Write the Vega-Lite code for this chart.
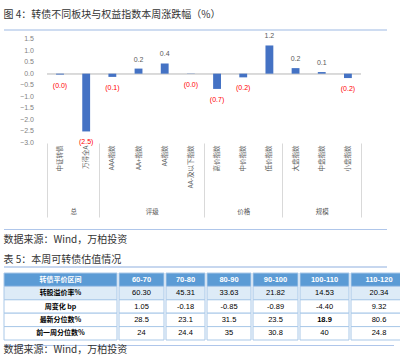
{
  "$schema": "https://vega.github.io/schema/vega-lite/v6.json",
  "background": "white",
  "padding": {"left": 3, "top": 10, "right": 0, "bottom": 0},
  "config": {
    "view": {"stroke": null},
    "font": "Noto Sans CJK SC",
    "title": {"fontWeight": "normal", "font": "Noto Sans CJK SC", "fontSize": 10, "color": "#333333", "anchor": "start", "subtitleFont": "Noto Sans CJK SC", "subtitleFontSize": 10, "subtitleColor": "#333333"}
  },
  "datasets": {
    "bars": [
      {"name": "中证转债", "v": -0.04, "label": "(0.0)"},
      {"name": "万得全A", "v": -2.5, "label": "(2.5)"},
      {"name": "AAA指数", "v": -0.14, "label": "(0.1)"},
      {"name": "AA+指数", "v": 0.22, "label": "0.2"},
      {"name": "AA指数", "v": 0.44, "label": "0.4"},
      {"name": "AA-及以下指数", "v": -0.01, "label": "(0.0)"},
      {"name": "高价指数", "v": -0.66, "label": "(0.7)"},
      {"name": "中价指数", "v": -0.16, "label": "(0.2)"},
      {"name": "低价指数", "v": 1.22, "label": "1.2"},
      {"name": "大盘指数", "v": 0.24, "label": "0.2"},
      {"name": "中盘指数", "v": 0.07, "label": "0.1"},
      {"name": "小盘指数", "v": -0.19, "label": "(0.2)"}
    ],
    "yticks": [
      {"t": -3}, {"t": -2.5}, {"t": -2}, {"t": -1.5}, {"t": -1}, {"t": -0.5}, {"t": 0}, {"t": 0.5}, {"t": 1}, {"t": 1.5}
    ],
    "tbl": [
      {"r": "转债平价区间", "c": "60-70", "t": "60-70"},
      {"r": "转股溢价率%", "c": "60-70", "t": "60.30"},
      {"r": "周变化 bp", "c": "60-70", "t": "1.05"},
      {"r": "最新分位数%", "c": "60-70", "t": "28.5"},
      {"r": "前一周分位数%", "c": "60-70", "t": "24"},
      {"r": "转债平价区间", "c": "70-80", "t": "70-80"},
      {"r": "转股溢价率%", "c": "70-80", "t": "45.31"},
      {"r": "周变化 bp", "c": "70-80", "t": "-0.18"},
      {"r": "最新分位数%", "c": "70-80", "t": "23.1"},
      {"r": "前一周分位数%", "c": "70-80", "t": "24.4"},
      {"r": "转债平价区间", "c": "80-90", "t": "80-90"},
      {"r": "转股溢价率%", "c": "80-90", "t": "33.63"},
      {"r": "周变化 bp", "c": "80-90", "t": "-0.85"},
      {"r": "最新分位数%", "c": "80-90", "t": "31.5"},
      {"r": "前一周分位数%", "c": "80-90", "t": "35"},
      {"r": "转债平价区间", "c": "90-100", "t": "90-100"},
      {"r": "转股溢价率%", "c": "90-100", "t": "21.82"},
      {"r": "周变化 bp", "c": "90-100", "t": "-0.89"},
      {"r": "最新分位数%", "c": "90-100", "t": "23.5"},
      {"r": "前一周分位数%", "c": "90-100", "t": "30.8"},
      {"r": "转债平价区间", "c": "100-110", "t": "100-110"},
      {"r": "转股溢价率%", "c": "100-110", "t": "14.53"},
      {"r": "周变化 bp", "c": "100-110", "t": "-4.40"},
      {"r": "最新分位数%", "c": "100-110", "t": "18.9"},
      {"r": "前一周分位数%", "c": "100-110", "t": "40"},
      {"r": "转债平价区间", "c": "110-120", "t": "110-120"},
      {"r": "转股溢价率%", "c": "110-120", "t": "20.34"},
      {"r": "周变化 bp", "c": "110-120", "t": "9.32"},
      {"r": "最新分位数%", "c": "110-120", "t": "80.6"},
      {"r": "前一周分位数%", "c": "110-120", "t": "24.8"}
    ]
  },
  "columns": 1,
  "align": "none",
  "spacing": 0,
  "concat": [
    {
      "width": 383, "height": 2,
      "data": {"values": [{}]},
      "title": {"text": "图 4：转债不同板块与权益指数本周涨跌幅（%）", "offset": 9},
      "mark": {"type": "rule", "color": "#9DB9E3", "strokeWidth": 1.2},
      "encoding": {"y": {"datum": 1, "type": "quantitative", "scale": {"domain": [0, 1]}, "axis": null}}
    },
    {
      "width": 357, "height": 104,
      "layer": [
        {
          "layer": [
            {
              "data": {"name": "bars"},
              "mark": {"type": "rule", "color": "#D9D9D9"},
              "encoding": {
                "x": {"datum": 0, "type": "quantitative", "scale": {"domain": [-1.643, 12], "nice": false, "zero": false},
                  "axis": {"orient": "bottom", "title": null, "values": [0, 1, 2, 4, 6, 7.5, 9, 10.5, 12],
                    "labelExpr": "datum.value == 1 ? '总' : datum.value == 4 ? '评级' : datum.value == 7.5 ? '价格' : datum.value == 10.5 ? '规模' : ''",
                    "tickSize": 74,
                    "tickColor": {"condition": {"test": "datum.value == 1 || datum.value == 4 || datum.value == 7.5 || datum.value == 10.5", "value": "transparent"}, "value": "#D9D9D9"},
                    "domain": false, "grid": false, "labelPadding": -8.8, "labelFontSize": 6.5, "labelColor": "#595959", "labelFont": "Noto Sans CJK SC", "labelFlush": false, "labelOverlap": false}},
                "x2": {"datum": 12},
                "y": {"datum": 0, "type": "quantitative"}
              }
            },
            {
              "data": {"name": "yticks"},
              "mark": {"type": "text", "align": "right", "baseline": "middle", "fontSize": 7, "color": "#7F7F7F", "font": "Liberation Sans"},
              "encoding": {
                "x": {"datum": -0.5, "type": "quantitative"},
                "y": {"field": "t", "type": "quantitative"},
                "text": {"field": "t", "format": ".1f"}
              }
            }
          ]
        },
        {
          "data": {"name": "bars"},
          "layer": [
            {
              "mark": {"type": "bar", "color": "#4472C4", "width": {"band": 0.3}},
              "encoding": {
                "x": {"field": "name", "type": "nominal", "sort": null, "scale": {"paddingInner": 0, "paddingOuter": 0.82, "align": 1},
                  "axis": {"title": null, "labelAngle": 270, "labelAlign": "right", "labelBaseline": "middle", "labelFontSize": 6.5, "labelColor": "#595959", "labelFont": "Noto Sans CJK SC", "ticks": false, "domain": false, "labelPadding": 2, "orient": "bottom"}},
                "y": {"field": "v", "type": "quantitative", "scale": {"domain": [-3, 1.5], "nice": false, "zero": false}, "axis": null}
              }
            },
            {
              "transform": [{"filter": "datum.v >= 0"}],
              "mark": {"type": "text", "baseline": "bottom", "dy": -6, "fontSize": 7, "color": "#595959", "font": "Liberation Sans"},
              "encoding": {
                "x": {"field": "name", "type": "nominal", "sort": null},
                "y": {"field": "v", "type": "quantitative"},
                "text": {"field": "label"}
              }
            },
            {
              "transform": [{"filter": "datum.v < 0"}],
              "mark": {"type": "text", "baseline": "top", "dy": 7, "fontSize": 7, "color": "#FF0000", "font": "Liberation Sans"},
              "encoding": {
                "x": {"field": "name", "type": "nominal", "sort": null},
                "y": {"field": "v", "type": "quantitative"},
                "text": {"field": "label"}
              }
            }
          ]
        }
      ],
      "resolve": {"scale": {"x": "independent"}, "axis": {"x": "independent"}}
    },
    {
      "width": 383, "height": 16.5,
      "data": {"values": [{}]},
      "mark": {"type": "rule", "color": "#AFC6EA", "strokeWidth": 1.2},
      "encoding": {"y": {"datum": 0.303, "type": "quantitative", "scale": {"domain": [0, 1]}, "axis": null}}
    },
    {
      "width": 383, "height": 4.4,
      "data": {"values": [{}]},
      "title": {"text": "数据来源：Wind，万柏投资", "subtitle": "表 5：本周可转债估值情况", "subtitlePadding": 9.4, "offset": 1.8},
      "mark": {"type": "rule", "color": "#8FB0E0", "strokeWidth": 1.2},
      "encoding": {"y": {"datum": 1, "type": "quantitative", "scale": {"domain": [0, 1]}, "axis": null}}
    },
    {
      "spacing": 0,
      "hconcat": [
        {
          "width": 113, "height": 67,
          "data": {"name": "tbl"},
          "transform": [{"filter": "datum.c == '60-70'"}],
          "encoding": {"y": {"field": "r", "type": "nominal", "sort": ["转债平价区间", "转股溢价率%", "周变化 bp", "最新分位数%", "前一周分位数%"], "scale": {"paddingInner": 0, "paddingOuter": 0}, "axis": null}},
          "layer": [
            {"mark": {"type": "rect", "stroke": "#A9C8E8", "strokeWidth": 1},
             "encoding": {"fill": {"condition": [{"test": "datum.r == '转债平价区间'", "value": "#5B9BD5"}, {"test": "datum.r == '转股溢价率%'", "value": "#DDEBF7"}], "value": "#FFFFFF"}}},
            {"mark": {"type": "text", "fontSize": 7, "font": "Noto Sans CJK SC", "fontWeight": "bold"},
             "encoding": {"text": {"field": "r"}, "color": {"condition": {"test": "datum.r == '转债平价区间'", "value": "#FFFFFF"}, "value": "#000000"}}}
          ]
        },
        {
          "width": 45, "height": 67,
          "data": {"name": "tbl"},
          "transform": [{"filter": "datum.c == '60-70'"}],
          "encoding": {"y": {"field": "r", "type": "nominal", "sort": ["转债平价区间", "转股溢价率%", "周变化 bp", "最新分位数%", "前一周分位数%"], "scale": {"paddingInner": 0, "paddingOuter": 0}, "axis": null}},
          "layer": [
            {"mark": {"type": "rect", "stroke": "#A9C8E8", "strokeWidth": 1},
             "encoding": {"fill": {"condition": [{"test": "datum.r == '转债平价区间'", "value": "#5B9BD5"}, {"test": "datum.r == '转股溢价率%'", "value": "#DDEBF7"}], "value": "#FFFFFF"}}},
            {"mark": {"type": "text", "fontSize": 7.5, "font": "Liberation Sans", "fontWeight": {"expr": "datum.r == '转债平价区间' ? 'bold' : 'normal'"}},
             "encoding": {"text": {"field": "t"}, "color": {"condition": {"test": "datum.r == '转债平价区间'", "value": "#FFFFFF"}, "value": "#000000"}}}
          ]
        },
        {
          "width": 39, "height": 67,
          "data": {"name": "tbl"},
          "transform": [{"filter": "datum.c == '70-80'"}],
          "encoding": {"y": {"field": "r", "type": "nominal", "sort": ["转债平价区间", "转股溢价率%", "周变化 bp", "最新分位数%", "前一周分位数%"], "scale": {"paddingInner": 0, "paddingOuter": 0}, "axis": null}},
          "layer": [
            {"mark": {"type": "rect", "stroke": "#A9C8E8", "strokeWidth": 1},
             "encoding": {"fill": {"condition": [{"test": "datum.r == '转债平价区间'", "value": "#5B9BD5"}, {"test": "datum.r == '转股溢价率%'", "value": "#DDEBF7"}], "value": "#FFFFFF"}}},
            {"mark": {"type": "text", "fontSize": 7.5, "font": "Liberation Sans", "fontWeight": {"expr": "datum.r == '转债平价区间' ? 'bold' : 'normal'"}},
             "encoding": {"text": {"field": "t"}, "color": {"condition": {"test": "datum.r == '转债平价区间'", "value": "#FFFFFF"}, "value": "#000000"}}}
          ]
        },
        {
          "width": 44, "height": 67,
          "data": {"name": "tbl"},
          "transform": [{"filter": "datum.c == '80-90'"}],
          "encoding": {"y": {"field": "r", "type": "nominal", "sort": ["转债平价区间", "转股溢价率%", "周变化 bp", "最新分位数%", "前一周分位数%"], "scale": {"paddingInner": 0, "paddingOuter": 0}, "axis": null}},
          "layer": [
            {"mark": {"type": "rect", "stroke": "#A9C8E8", "strokeWidth": 1},
             "encoding": {"fill": {"condition": [{"test": "datum.r == '转债平价区间'", "value": "#5B9BD5"}, {"test": "datum.r == '转股溢价率%'", "value": "#DDEBF7"}], "value": "#FFFFFF"}}},
            {"mark": {"type": "text", "fontSize": 7.5, "font": "Liberation Sans", "fontWeight": {"expr": "datum.r == '转债平价区间' ? 'bold' : 'normal'"}},
             "encoding": {"text": {"field": "t"}, "color": {"condition": {"test": "datum.r == '转债平价区间'", "value": "#FFFFFF"}, "value": "#000000"}}}
          ]
        },
        {
          "width": 45, "height": 67,
          "data": {"name": "tbl"},
          "transform": [{"filter": "datum.c == '90-100'"}],
          "encoding": {"y": {"field": "r", "type": "nominal", "sort": ["转债平价区间", "转股溢价率%", "周变化 bp", "最新分位数%", "前一周分位数%"], "scale": {"paddingInner": 0, "paddingOuter": 0}, "axis": null}},
          "layer": [
            {"mark": {"type": "rect", "stroke": "#A9C8E8", "strokeWidth": 1},
             "encoding": {"fill": {"condition": [{"test": "datum.r == '转债平价区间'", "value": "#5B9BD5"}, {"test": "datum.r == '转股溢价率%'", "value": "#DDEBF7"}], "value": "#FFFFFF"}}},
            {"mark": {"type": "text", "fontSize": 7.5, "font": "Liberation Sans", "fontWeight": {"expr": "datum.r == '转债平价区间' ? 'bold' : 'normal'"}},
             "encoding": {"text": {"field": "t"}, "color": {"condition": {"test": "datum.r == '转债平价区间'", "value": "#FFFFFF"}, "value": "#000000"}}}
          ]
        },
        {
          "width": 49, "height": 67,
          "data": {"name": "tbl"},
          "transform": [{"filter": "datum.c == '100-110'"}],
          "encoding": {"y": {"field": "r", "type": "nominal", "sort": ["转债平价区间", "转股溢价率%", "周变化 bp", "最新分位数%", "前一周分位数%"], "scale": {"paddingInner": 0, "paddingOuter": 0}, "axis": null}},
          "layer": [
            {"mark": {"type": "rect", "stroke": "#A9C8E8", "strokeWidth": 1},
             "encoding": {"fill": {"condition": [{"test": "datum.r == '转债平价区间'", "value": "#5B9BD5"}, {"test": "datum.r == '转股溢价率%'", "value": "#DDEBF7"}], "value": "#FFFFFF"}}},
            {"mark": {"type": "text", "fontSize": 7.5, "font": "Liberation Sans", "fontWeight": {"expr": "datum.r == '转债平价区间' || datum.r == '最新分位数%' ? 'bold' : 'normal'"}},
             "encoding": {"text": {"field": "t"}, "color": {"condition": {"test": "datum.r == '转债平价区间'", "value": "#FFFFFF"}, "value": "#000000"}}}
          ]
        },
        {
          "width": 56, "height": 67,
          "data": {"name": "tbl"},
          "transform": [{"filter": "datum.c == '110-120'"}],
          "encoding": {"y": {"field": "r", "type": "nominal", "sort": ["转债平价区间", "转股溢价率%", "周变化 bp", "最新分位数%", "前一周分位数%"], "scale": {"paddingInner": 0, "paddingOuter": 0}, "axis": null}},
          "layer": [
            {"mark": {"type": "rect", "stroke": "#A9C8E8", "strokeWidth": 1},
             "encoding": {"fill": {"condition": [{"test": "datum.r == '转债平价区间'", "value": "#5B9BD5"}, {"test": "datum.r == '转股溢价率%'", "value": "#DDEBF7"}], "value": "#FFFFFF"}}},
            {"mark": {"type": "text", "fontSize": 7.5, "font": "Liberation Sans", "fontWeight": {"expr": "datum.r == '转债平价区间' ? 'bold' : 'normal'"}},
             "encoding": {"text": {"field": "t"}, "color": {"condition": {"test": "datum.r == '转债平价区间'", "value": "#FFFFFF"}, "value": "#000000"}}}
          ]
        }
      ]
    },
    {
      "width": 390, "height": 4.5,
      "data": {"values": [{}]},
      "title": {"text": "数据来源：Wind，万柏投资", "orient": "bottom", "offset": -1},
      "mark": {"type": "rule", "color": "#AFC6EA", "strokeWidth": 1.2},
      "encoding": {"y": {"datum": 0, "type": "quantitative", "scale": {"domain": [0, 1]}, "axis": null}}
    }
  ]
}
